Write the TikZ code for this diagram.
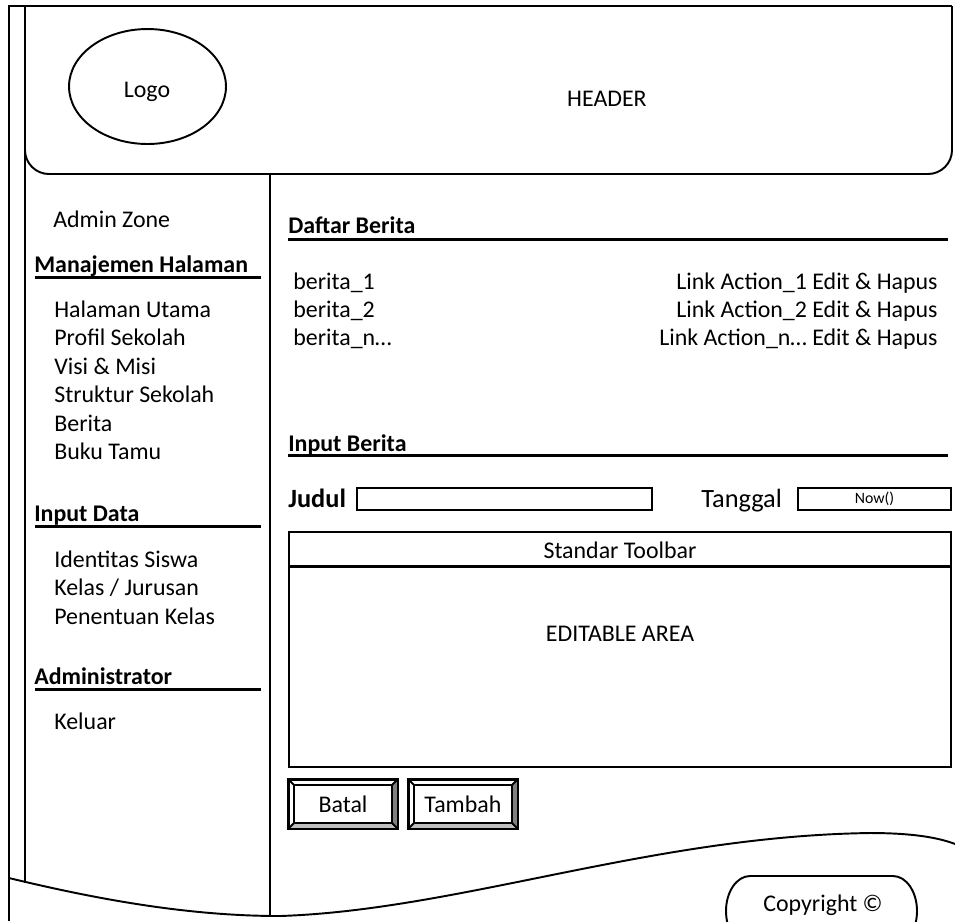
\documentclass[tikz,border=0pt]{standalone}
\usepackage{fontspec}
\setmainfont{Carlito}
\usepackage{tikz}
\usetikzlibrary{positioning,calc,shapes.geometric}
\newcommand{\bodyfont}{\fontsize{13.6}{16}\selectfont}
\newcommand{\bigfont}{\fontsize{15}{18}\selectfont}
\newcommand{\smallfont}{\fontsize{9}{11}\selectfont}

\begin{document}
\begin{tikzpicture}[
  x=0.02cm, y=-0.02cm,
  font=\bodyfont,
  frame/.style={line width=1.1pt},
  item/.style={anchor=base west, inner sep=0pt},
  head/.style={item, font=\bodyfont\bfseries},
  rule/.style={line width=1.7pt},
  field/.style={draw, line width=1.1pt, minimum height=0.44cm, inner sep=0pt},
  btn/.style={draw, line width=1.1pt, minimum width=2.16cm, minimum height=0.96cm, inner sep=0pt},
]
\clip (0,0) rectangle (955,921);
% ---------------- frame and header ----------------
\draw[frame] (9,921) -- (9,6) -- (952,6);
\draw[frame] (25,6) -- (25,883);
\draw[frame, rounded corners=0.48cm] (25,6) |- (952,174) -- (952,6);
\node[draw, frame, ellipse, minimum width=3.14cm, minimum height=2.3cm] (logo) at (147.5,86.5) {};
\node[anchor=base, inner sep=0pt] (logotext) at (147,97) {Logo};
\node[anchor=base east, inner sep=0pt] (header) at (647,106) {HEADER};
\draw[frame] (270,174) -- (270,916);
% wavy bottom edge
\draw[frame] (9,878) .. controls (100,900) and (190,916) .. (280,916)
  .. controls (460,910) and (650,836) .. (870,833)
  .. controls (910,833) and (940,837) .. (960,846);
% ---------------- sidebar ----------------
\node[item] (admin) at (53,227) {Admin Zone};
\node[head] (mh) at (34,272) {Manajemen Halaman};
\draw[rule] (35,277) -- (261,277);
\foreach \t [count=\i] in {Halaman Utama, Profil Sekolah, Visi \& Misi, Struktur Sekolah, Berita, Buku Tamu}
  \node[item] (hal\i) at (54,288.5+\i*28.5) {\t};
\node[head] (id) at (34,521) {Input Data};
\draw[rule] (35,526) -- (261,526);
\foreach \t [count=\i] in {Identitas Siswa, Kelas / Jurusan, Penentuan Kelas}
  \node[item] (inp\i) at (54,538.5+\i*28.5) {\t};
\node[head] (adm) at (34,684) {Administrator};
\draw[rule] (35,689) -- (261,689);
\node[item] (keluar) at (54,729) {Keluar};
% ---------------- content ----------------
\node[head] (daftar) at (288,233) {Daftar Berita};
\draw[rule] (288,239) -- (948,239);
\foreach \n [count=\i] in {1, 2, n…} {
  \node[item] (ber\i) at (293,261+\i*28) {berita\_\n};
  \node[anchor=base east, inner sep=0pt] (act\i) at (938,261+\i*28) {Link Action\_\n\ Edit \& Hapus};
}
\node[head] (input) at (288,451) {Input Berita};
\draw[rule] (288,455) -- (948,455);
\node[item, font=\bigfont\bfseries] (judul) at (288,507) {Judul};
\node[field, minimum width=5.9cm] (fjudul) at (504.5,499) {};
\node[item, font=\bigfont] (tgl) at (701,507) {Tanggal};
\node[field, minimum width=3.06cm, font=\smallfont] (now) at (874.5,499) {Now()};
\node[draw, line width=1.5pt, minimum width=13.24cm, minimum height=4.7cm, inner sep=0pt] (editor) at (620,649.5) {};
\draw[line width=1.5pt] ($(editor.north west)+(0,36)$) -- ($(editor.north east)+(0,36)$);
\node[anchor=base, inner sep=0pt] (toolbar) at (620,558) {Standar Toolbar};
\node[anchor=base, inner sep=0pt] (area) at (620,641) {EDITABLE AREA};
% buttons
\node[btn] (batal) at (343,804) {Batal};
\node[btn, right=0.2cm of batal] (tambah) {Tambah};
\foreach \b in {batal,tambah} {
  \fill[black!50] (\b.north east) -- ($(\b.north east)+(-6,6)$) -- ($(\b.south east)+(-6,-6)$) -- (\b.south east) -- cycle;
  \fill[black!25] (\b.south west) -- ($(\b.south west)+(6,-6)$) -- ($(\b.south east)+(-6,-6)$) -- (\b.south east) -- cycle;
  \draw[frame] (\b.north west) rectangle (\b.south east);
  \draw[frame] ($(\b.north west)+(6,6)$) rectangle ($(\b.south east)+(-6,-6)$);
  \draw[frame] (\b.north west) -- ++(6,6);
  \draw[frame] (\b.north east) -- ++(-6,6);
  \draw[frame] (\b.south west) -- ++(6,-6);
  \draw[frame] (\b.south east) -- ++(-6,-6);
}
% footer
\draw[frame] (750,876) -- (893,876) arc[start angle=-90, end angle=90, x radius=24, y radius=35]
  -- (750,946) arc[start angle=90, end angle=270, x radius=24, y radius=35] -- cycle;
\node[anchor=base, inner sep=0pt] (copy) at (823,911) {Copyright ©};
\end{tikzpicture}
\end{document}
